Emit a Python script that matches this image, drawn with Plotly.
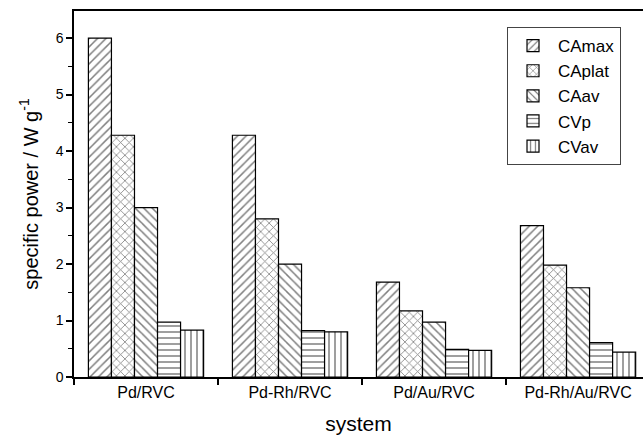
import plotly.graph_objects as go

systems = ["Pd/RVC", "Pd-Rh/RVC", "Pd/Au/RVC", "Pd-Rh/Au/RVC"]
series_names = ["CAmax", "CAplat", "CAav", "CVp", "CVav"]
camax = [6.0, 4.28, 1.68, 2.68]
caplat = [4.28, 2.80, 1.17, 1.98]
caav = [3.0, 2.0, 0.97, 1.58]
cvp = [0.97, 0.82, 0.49, 0.61]
cvav = [0.83, 0.80, 0.47, 0.44]
values = [camax, caplat, caav, cvp, cvav]
patterns = ["/", "x", "\\", "-", "|"]

xpos = list(range(len(systems)))

fig = go.Figure()
for name, vals, pat in zip(series_names, values, patterns):
    fig.add_trace(go.Bar(
        x=xpos, y=vals, name=name,
        marker=dict(color="white",
                    line=dict(color="black", width=1.2),
                    pattern=dict(shape=pat, fgcolor="black", bgcolor="white",
                                 size=6, solidity=0.25)),
    ))

font = "Liberation Sans, Arial, sans-serif"
fig.update_layout(
    width=643, height=436,
    margin=dict(l=74, r=0, t=11, b=59),
    paper_bgcolor="white", plot_bgcolor="white",
    barmode="group", bargap=0.2, bargroupgap=0,
    font=dict(family=font, color="black"),
    showlegend=True,
    legend=dict(x=0.761, y=0.956, xanchor="left", yanchor="top",
                bordercolor="#444", borderwidth=1, bgcolor="white",
                itemwidth=40,
                font=dict(size=17, family=font), tracegroupgap=2),
    xaxis=dict(range=[-0.5, 3.451], tickvals=xpos, ticktext=systems,
               ticks="", tickfont=dict(size=16),
               showline=True, linecolor="black", linewidth=1.5, mirror=True,
               showgrid=False, zeroline=False,
               minor=dict(tick0=0.5, dtick=1, ticks="outside", ticklen=6,
                          tickcolor="black", tickwidth=1.5, showgrid=False),
               title=dict(text="system", font=dict(size=21), standoff=16)),
    yaxis=dict(range=[0, 6.48], dtick=1, ticks="outside", ticklen=6,
               tickwidth=1.5, tickcolor="black", tickfont=dict(size=14),
               showline=True, linecolor="black", linewidth=1.5,
               showgrid=False, zeroline=False,
               minor=dict(dtick=0.5, ticks="outside", ticklen=4,
                          tickwidth=1.2, tickcolor="black", showgrid=False),
               title=dict(text="specific power / W g<sup>-1</sup>",
                          font=dict(size=20), standoff=12)),
)

fig.write_html("out.html")
